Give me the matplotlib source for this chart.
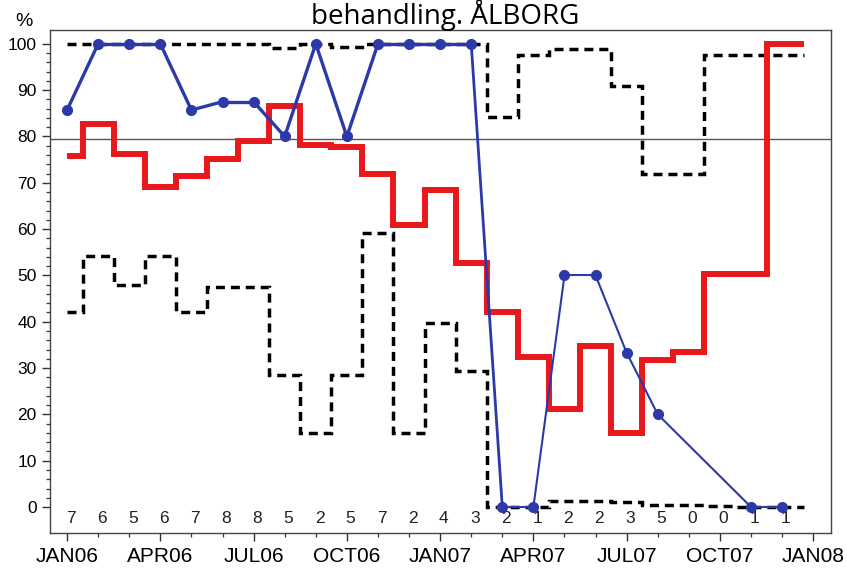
import numpy as np
import matplotlib
matplotlib.use("Agg")
import matplotlib.pyplot as plt
from matplotlib.ticker import FixedLocator, NullFormatter

# ==============================
# DATA
# ==============================
months = ["JAN06", "FEB06", "MAR06", "APR06", "MAY06", "JUN06",
          "JUL06", "AUG06", "SEP06", "OCT06", "NOV06", "DEC06",
          "JAN07", "FEB07", "MAR07", "APR07", "MAY07", "JUN07",
          "JUL07", "AUG07", "SEP07", "OCT07", "NOV07", "DEC07"]
tick_labels = ["JAN06", "APR06", "JUL06", "OCT06", "JAN07",
               "APR07", "JUL07", "OCT07", "JAN08"]
counts = [7, 6, 5, 6, 7, 8, 8, 5, 2, 5, 7, 2,
          4, 3, 2, 1, 2, 2, 3, 5, 0, 0, 1, 1]
# monthly share (blue), None where no patients
share = [85.7, 100, 100, 100, 85.7, 87.5, 87.5, 80, 100, 80, 100, 100,
         100, 100, 0, 0, 50, 50, 33.3, 20, None, None, 0, 0]
# running value (red step)
running = [75.8, 82.7, 76.2, 69.0, 71.5, 75.1, 79.0, 86.5, 78.2, 77.8, 71.9, 60.9,
           68.5, 52.6, 42.2, 32.3, 21.1, 34.8, 15.9, 31.7, 33.5, 50.2, 50.2, 100]
# confidence limits (black dashed steps)
upper = [100, 100, 100, 100, 100, 100, 100, 99.0, 100, 99.3, 100, 100,
         100, 100, 84.2, 97.6, 98.9, 98.9, 90.8, 71.9, 71.9, 97.6, 97.6, 97.6]
lower = [42.0, 54.3, 47.9, 54.3, 42.2, 47.4, 47.4, 28.5, 16.0, 28.5, 59.1, 16.0,
         39.8, 29.4, 0, 0, 1.4, 1.4, 1.0, 0.5, 0.5, 0.2, 0, 0]
target = 79.5

# ==============================
# LAYOUT
# ==============================
plt.rcParams['font.family'] = ['Liberation Sans', 'DejaVu Sans']

fig = plt.figure(figsize=(8.47, 5.71), dpi=100)
ax = fig.add_axes([0.059, 0.0666, 0.922, 0.881])

x = np.arange(len(months))
edges = np.concatenate([[x[0]], (x[:-1] + x[1:]) / 2, [x[-1] + 0.7]])

blue = "#2b3aa8"
red = "#e8191c"

# reference line
ax.axhline(target, color="#555555", lw=1.0, zorder=1)

# confidence limits
for lim in (upper, lower):
    st = ax.stairs(lim, edges, baseline=None, color="black", lw=2.5,
                   linestyle=(0, (2.6, 1.7)), zorder=2)
    st.set_joinstyle("miter")

# running value
st = ax.stairs(running, edges, baseline=None, color=red, lw=4.3, zorder=3)
st.set_joinstyle("miter")

# monthly share, thinner after Feb07
ok = [i for i, v in enumerate(share) if v is not None]
for a, b in zip(ok[:-1], ok[1:]):
    w = 2.4 if a < 13 else (2.0 if a == 13 else 1.5)
    ax.plot([x[a], x[b]], [share[a], share[b]], color=blue, lw=w,
            solid_capstyle="round", zorder=4)
ax.plot([x[i] for i in ok], [share[i] for i in ok], "o", color=blue,
        markersize=7, zorder=5)

# patient counts along the bottom
for xi, c in zip(x, counts):
    ax.text(xi + 0.12, -2.5, str(c), ha="center", va="center",
            fontsize=12.5, color="#222222")

# ==============================
# AXES
# ==============================
ax.set_xlim(-0.55, 24.57)
ax.set_ylim(-5.6, 103.0)

ax.xaxis.set_major_locator(FixedLocator(np.arange(0, 25, 3)))
ax.xaxis.set_minor_locator(FixedLocator(np.arange(0, 25, 1)))
ax.set_xticklabels(tick_labels, fontsize=15)
ax.xaxis.set_minor_formatter(NullFormatter())

ax.yaxis.set_major_locator(FixedLocator(np.arange(0, 101, 10)))
ax.yaxis.set_minor_locator(FixedLocator(np.arange(0, 101, 2)))
ax.tick_params(axis="y", labelsize=12.5)
ax.tick_params(which="major", length=6, width=1.0, color="#333333")
ax.tick_params(which="minor", length=3, width=0.9, color="#333333")
ax.tick_params(axis="x", pad=4)

for sp in ax.spines.values():
    sp.set_color("#444444")
    sp.set_linewidth(1.0)

fig.text(24 / 847, 1 - 21 / 571, "%", fontsize=14, ha="center", va="center")
fig.text(0.526, 0.973, "behandling. ÅLBORG", fontsize=20,
         family=["Open Sans", "DejaVu Sans"], ha="center", va="center")

fig.savefig("out.png", dpi=100)
